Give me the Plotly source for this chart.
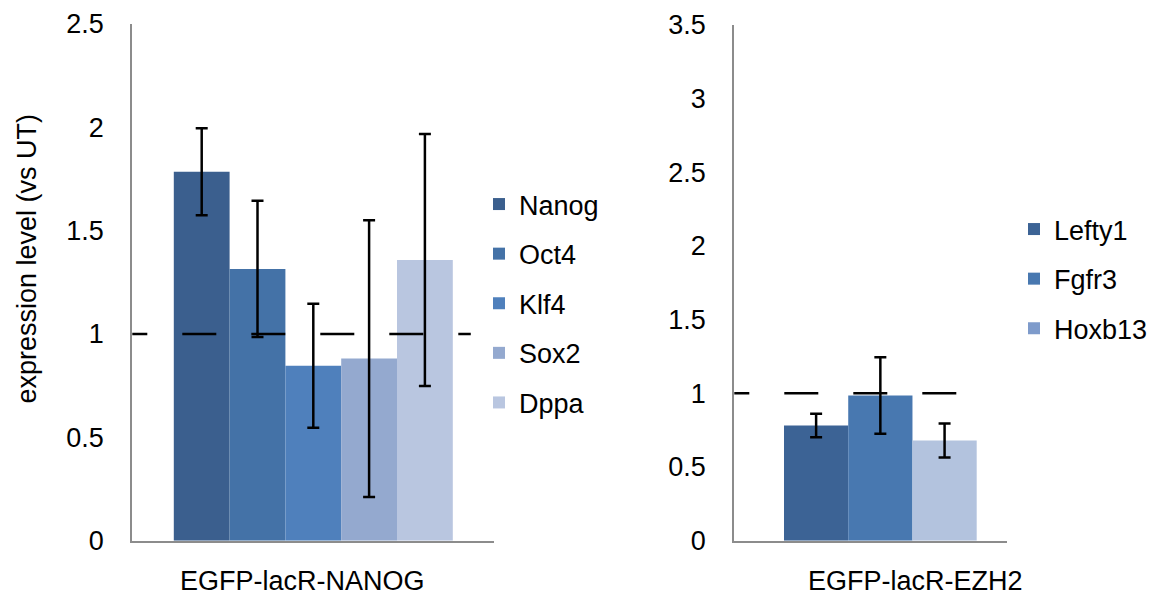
import plotly.graph_objects as go

# ---------------- data ----------------
left_category = ["EGFP-lacR-NANOG"]
left_genes = ["Nanog", "Oct4", "Klf4", "Sox2", "Dppa"]
left_values = [1.785, 1.315, 0.846, 0.881, 1.358]
left_errors = [0.21, 0.33, 0.30, 0.67, 0.61]
left_colors = ["#3B5F8E", "#4472A7", "#4F80BC", "#94A9CF", "#B9C6E0"]
left_ticks = [0, 0.5, 1, 1.5, 2, 2.5]

right_category = ["EGFP-lacR-EZH2"]
right_genes = ["Lefty1", "Fgfr3", "Hoxb13"]
right_values = [0.782, 0.985, 0.68]
right_errors = [0.08, 0.26, 0.115]
right_colors = ["#3C6395", "#4878B0", "#B3C3DE"]
right_legend_colors = ["#3C6395", "#4878B0", "#7E9BCB"]
right_ticks = [0, 0.5, 1, 1.5, 2, 2.5, 3, 3.5]

reference_level = 1
y_title = "expression level (vs UT)"

# ---------------- geometry helpers ----------------
W, H = 1155, 598
def fx(px):
    return px / W
def fy(py):
    return 1 - py / H

FONT = "Liberation Sans, Arial, sans-serif"
FS = 27
AXIS_COLOR = "#8C8C8C"
BARGAP = 0.2293

fig = go.Figure()

err_style = dict(type="data", color="black", thickness=2.5, width=6)

for g, v, e, c in zip(left_genes, left_values, left_errors, left_colors):
    fig.add_trace(go.Bar(
        x=left_category, y=[v], name=g,
        marker=dict(color=c, line=dict(width=0)),
        error_y=dict(array=[e], **err_style),
        xaxis="x", yaxis="y", legend="legend", legendgroup=g,
    ))

for g, v, e, c, lc in zip(right_genes, right_values, right_errors, right_colors, right_legend_colors):
    same = (c == lc)
    fig.add_trace(go.Bar(
        x=right_category, y=[v], name=g,
        marker=dict(color=c, line=dict(width=0)),
        error_y=dict(array=[e], **err_style),
        xaxis="x2", yaxis="y2", legend="legend2", legendgroup=g,
        showlegend=same,
    ))
    if not same:
        fig.add_trace(go.Scatter(
            x=[None], y=[None], name=g, mode="markers",
            marker=dict(symbol="square", size=12, color=lc),
            xaxis="x2", yaxis="y2", legend="legend2", legendgroup=g,
            hoverinfo="skip",
        ))

r_px = 1006.7 - 734.3
r_units = (1 - BARGAP) * r_px / 192.7
r_left = -(1 - BARGAP) / 2 - 49.7 / (r_px / r_units)
right_range = [r_left, r_left + r_units]

common_x = dict(type="category", showline=True, linecolor=AXIS_COLOR, linewidth=2,
                showticklabels=False, ticks="", showgrid=False, zeroline=False,
                fixedrange=True, automargin=False)
common_y = dict(showline=True, linecolor=AXIS_COLOR, linewidth=2, ticks="",
                showgrid=False, zeroline=False, ticklabelstandoff=21, automargin=False,
                tickfont=dict(family=FONT, size=FS, color="black"), fixedrange=True)

dash = "15px,35px,34px,35px,34px,35px,34px,35px,34px,35px,34px,35px"

fig.update_layout(
    width=W, height=H, autosize=False,
    margin=dict(l=0, r=0, t=0, b=0, pad=0, autoexpand=False),
    paper_bgcolor="white", plot_bgcolor="white",
    font=dict(family=FONT, size=FS, color="black"),
    barmode="group", bargap=BARGAP, bargroupgap=0,
    showlegend=True,
    xaxis=dict(domain=[fx(132.3), fx(494.3)], range=[-0.5, 0.5], anchor="y", **common_x),
    yaxis=dict(domain=[fy(540.7), fy(24)], range=[0, 2.5], tickvals=left_ticks, anchor="x", **common_y),
    xaxis2=dict(domain=[fx(734.3), fx(1006.7)], range=right_range, anchor="y2", **common_x),
    yaxis2=dict(domain=[fy(540.7), fy(24.8)], range=[0, 3.5], tickvals=right_ticks, anchor="x2", **common_y),
    legend=dict(x=fx(479), xanchor="left", y=fy(180), yanchor="top",
                traceorder="grouped", tracegroupgap=11.5, bgcolor="rgba(0,0,0,0)",
                font=dict(family=FONT, size=FS, color="black")),
    legend2=dict(x=fx(1014), xanchor="left", y=fy(205), yanchor="top",
                 traceorder="grouped", tracegroupgap=11.5, bgcolor="rgba(0,0,0,0)",
                 font=dict(family=FONT, size=FS, color="black")),
    shapes=[
        dict(type="line", xref="x domain", yref="y", x0=0, x1=0.935,
             y0=reference_level, y1=reference_level,
             line=dict(color="black", width=2.5, dash=dash)),
        dict(type="line", xref="x2 domain", yref="y2", x0=0, x1=0.936,
             y0=reference_level, y1=reference_level,
             line=dict(color="black", width=2.5, dash=dash)),
    ],
    annotations=[
        dict(text=y_title, x=fx(26.5), y=fy(259), xref="paper", yref="paper",
             textangle=-90, showarrow=False, xanchor="center", yanchor="middle",
             font=dict(family=FONT, size=FS, color="black")),
        dict(text=left_category[0], x=fx(302.5), y=fy(581), xref="paper", yref="paper",
             showarrow=False, xanchor="center", yanchor="middle",
             font=dict(family=FONT, size=FS, color="black")),
        dict(text=right_category[0], x=fx(915), y=fy(581), xref="paper", yref="paper",
             showarrow=False, xanchor="center", yanchor="middle",
             font=dict(family=FONT, size=FS, color="black")),
    ],
)

fig.write_html("out.html", config={"displayModeBar": False})
